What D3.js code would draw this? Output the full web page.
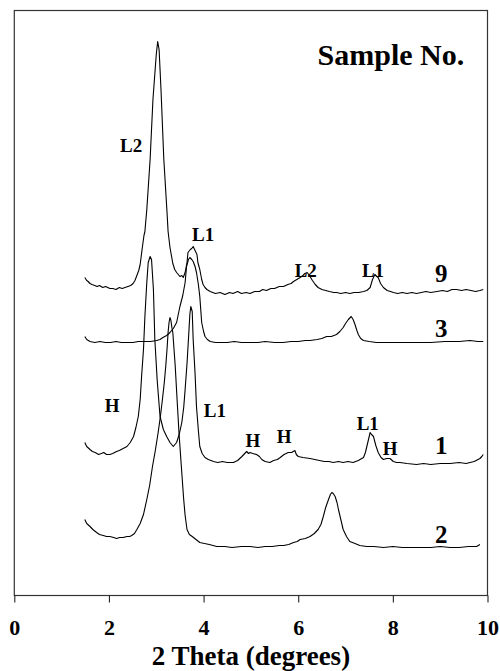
<!DOCTYPE html>
<html>
<head>
<meta charset="utf-8">
<script src="https://cdn.jsdelivr.net/npm/d3@7/dist/d3.min.js"></script>
<style>
  html, body { margin: 0; padding: 0; background: #fff; }
  svg { display: block; }
  text { font-family: "Liberation Serif", "Times New Roman", "DejaVu Serif", serif; font-weight: bold; fill: #000; }
</style>
</head>
<body>
<div id="chart"></div>
<script>
// ---- Data (2 theta in degrees, intensity in arbitrary stacked units) ----
const xTicks = [0, 2, 4, 6, 8, 10];
const sampleNames = ["9", "3", "1", "2"];

const sample9 = [[1.49,318],[1.53,315],[1.56,314],[1.60,312],[1.64,311],[1.70,310],[1.75,309],[1.80,310],[1.87,308],[1.93,309],[2.02,307],[2.08,307],[2.15,306],[2.22,308],[2.28,307],[2.34,308],[2.40,309],[2.46,310],[2.51,312],[2.55,315],[2.59,320],[2.63,325],[2.66,331],[2.70,346],[2.74,360],[2.76,364],[2.80,386],[2.87,436],[2.93,496],[3.00,541],[3.03,554],[3.06,546],[3.10,506],[3.16,436],[3.23,381],[3.25,364],[3.29,348],[3.35,332],[3.39,326],[3.43,323],[3.50,319],[3.54,320],[3.57,318],[3.61,323],[3.65,333],[3.67,343],[3.72,346],[3.75,347],[3.78,349],[3.82,345],[3.86,341],[3.88,333],[3.92,326],[3.96,316],[3.99,311],[4.03,308],[4.07,306],[4.14,304],[4.25,302],[4.35,303],[4.45,301],[4.55,303],[4.62,302],[4.72,304],[4.80,302],[4.90,303],[4.98,302],[5.08,304],[5.18,304],[5.25,306],[5.33,305],[5.42,307],[5.50,307],[5.60,309],[5.69,309],[5.78,311],[5.85,312],[5.90,314],[5.97,316],[6.04,318],[6.10,320],[6.14,322],[6.19,323],[6.22,321],[6.25,319],[6.30,315],[6.36,311],[6.42,308],[6.50,306],[6.58,305],[6.66,304],[6.75,303],[6.81,303],[6.90,302],[7.00,303],[7.09,302],[7.18,303],[7.28,303],[7.38,304],[7.45,305],[7.52,308],[7.57,316],[7.62,321],[7.66,319],[7.69,318],[7.74,312],[7.80,308],[7.88,305],[7.95,304],[8.01,303],[8.10,302],[8.20,303],[8.30,302],[8.40,303],[8.50,302],[8.60,303],[8.70,304],[8.80,303],[8.93,304],[9.05,305],[9.15,304],[9.25,306],[9.35,306],[9.45,305],[9.55,306],[9.65,305],[9.75,304],[9.84,305],[9.91,306]];

const sample3 = [[1.49,259],[1.53,256],[1.60,254],[1.70,253],[1.81,254],[1.92,253],[2.03,253],[2.15,254],[2.26,253],[2.38,253],[2.51,253],[2.62,254],[2.75,254],[2.88,254],[3.01,255],[3.08,256],[3.14,258],[3.22,260],[3.29,263],[3.36,267],[3.43,273],[3.50,289],[3.56,300],[3.61,313],[3.64,329],[3.68,336],[3.71,338],[3.75,336],[3.78,334],[3.82,329],[3.85,323],[3.89,311],[3.92,299],[3.96,273],[4.00,264],[4.03,259],[4.08,256],[4.14,254],[4.25,253],[4.35,253],[4.50,253],[4.65,254],[4.80,253],[4.98,253],[5.15,253],[5.30,254],[5.50,253],[5.68,253],[5.85,254],[6.00,254],[6.15,255],[6.25,255],[6.40,256],[6.50,257],[6.60,259],[6.70,259],[6.81,261],[6.88,264],[6.95,268],[7.00,272],[7.06,276],[7.12,279],[7.16,276],[7.20,271],[7.24,265],[7.27,261],[7.32,257],[7.38,255],[7.50,254],[7.65,253],[7.80,253],[8.00,253],[8.20,253],[8.50,253],[8.80,253],[9.10,254],[9.40,254],[9.63,255],[9.80,254],[9.91,254]];

const sample1 = [[1.49,153],[1.53,149],[1.60,146],[1.65,144],[1.71,143],[1.78,141],[1.84,142],[1.89,143],[1.95,141],[2.02,141],[2.08,142],[2.16,144],[2.22,145],[2.30,147],[2.38,149],[2.45,153],[2.52,159],[2.57,168],[2.62,179],[2.66,196],[2.69,219],[2.73,246],[2.76,279],[2.80,313],[2.83,333],[2.87,339],[2.90,336],[2.94,306],[2.97,256],[3.02,215],[3.08,179],[3.15,166],[3.22,159],[3.29,153],[3.36,149],[3.43,153],[3.49,162],[3.54,173],[3.58,188],[3.61,206],[3.65,232],[3.68,256],[3.71,281],[3.73,289],[3.76,284],[3.78,256],[3.82,222],[3.85,189],[3.89,165],[3.92,149],[3.97,142],[4.03,138],[4.10,136],[4.21,134],[4.30,133],[4.40,134],[4.50,133],[4.63,133],[4.72,135],[4.81,139],[4.87,142],[4.91,144],[4.95,142],[4.98,143],[5.04,142],[5.12,141],[5.18,139],[5.23,136],[5.30,134],[5.40,133],[5.48,135],[5.56,136],[5.62,138],[5.70,141],[5.79,143],[5.86,143],[5.93,145],[5.96,141],[6.00,139],[6.10,138],[6.25,137],[6.35,136],[6.45,135],[6.55,134],[6.65,134],[6.74,133],[6.85,134],[6.95,133],[7.05,134],[7.16,133],[7.27,135],[7.38,138],[7.42,143],[7.45,149],[7.49,157],[7.52,163],[7.55,161],[7.59,159],[7.64,150],[7.69,143],[7.75,138],[7.80,136],[7.87,137],[7.94,137],[8.01,134],[8.08,133],[8.15,133],[8.30,132],[8.50,131],[8.65,132],[8.80,131],[9.00,132],[9.21,132],[9.40,133],[9.55,132],[9.63,133],[9.72,134],[9.80,136],[9.84,137],[9.88,139],[9.91,141]];

const sample2 = [[1.49,76],[1.53,72],[1.60,69],[1.66,66],[1.74,63],[1.80,61],[1.88,60],[1.95,59],[2.02,59],[2.10,58],[2.16,57],[2.23,58],[2.30,58],[2.38,59],[2.44,59],[2.48,60],[2.54,62],[2.59,66],[2.66,72],[2.73,81],[2.80,96],[2.86,110],[2.92,129],[2.98,145],[3.04,163],[3.09,180],[3.13,196],[3.17,213],[3.20,229],[3.23,248],[3.25,263],[3.27,273],[3.29,278],[3.31,275],[3.33,268],[3.35,263],[3.40,230],[3.44,196],[3.48,163],[3.53,129],[3.58,96],[3.61,80],[3.65,66],[3.70,61],[3.76,59],[3.84,56],[3.92,53],[4.02,52],[4.12,51],[4.28,49],[4.45,49],[4.60,48],[4.80,49],[4.98,49],[5.15,48],[5.30,49],[5.45,49],[5.60,50],[5.69,50],[5.80,51],[5.90,53],[5.98,54],[6.04,56],[6.15,57],[6.25,59],[6.34,62],[6.42,66],[6.48,71],[6.53,79],[6.58,88],[6.64,96],[6.68,101],[6.71,103],[6.74,102],[6.78,99],[6.82,93],[6.85,86],[6.90,76],[6.95,66],[7.02,59],[7.09,54],[7.20,52],[7.30,50],[7.45,49],[7.60,49],[7.80,48],[8.00,49],[8.20,48],[8.50,48],[8.80,48],[9.00,49],[9.21,48],[9.40,48],[9.60,49],[9.77,49],[9.84,51]];

const peakLabels = ["L2", "L1", "L2", "L1", "H", "L1", "H", "H", "L1", "H"];
const peakTheta  = [2.47, 3.99, 6.16, 7.58, 2.07, 4.24, 5.04, 5.70, 7.47, 7.94];
const peakLevel  = [444, 355, 319, 319, 184, 179, 149, 153, 166, 141];

const sampleLabelTheta = 9.02;
const sampleLabelLevel = [314, 259, 142, 53];

// ---- Layout ----
const W = 500, H = 671;
const plot = { left: 14.3, right: 487.5, top: 10.5, bottom: 595.5 };

const svg = d3.select("#chart").append("svg").attr("width", W).attr("height", H);

const x = d3.scaleLinear().domain([0, 10]).range([plot.left, plot.right]);
const y = d3.scaleLinear().domain([0, 585]).range([plot.bottom, plot.top]);

// frame
svg.append("rect")
  .attr("x", plot.left).attr("y", plot.top)
  .attr("width", plot.right - plot.left).attr("height", plot.bottom - plot.top)
  .attr("fill", "none").attr("stroke", "#333").attr("stroke-width", 1.2);

// x axis
const xAxis = d3.axisBottom(x).tickValues(xTicks).tickSize(7).tickSizeOuter(0).tickPadding(17)
  .tickFormat(d3.format("d"));
const gx = svg.append("g").attr("transform", `translate(0,${plot.bottom})`).call(xAxis);
gx.attr("font-size", null).attr("font-family", null);
gx.select(".domain").remove();
gx.selectAll(".tick line").attr("stroke", "#222").attr("stroke-width", 1.1);
gx.selectAll(".tick text")
  .attr("font-weight", "bold")
  .attr("font-family", '"Liberation Serif", "Times New Roman", serif')
  .style("font-size", "22px").attr("fill", "#000");

svg.append("text")
  .attr("x", (plot.left + plot.right) / 2).attr("y", 665)
  .attr("text-anchor", "middle").style("font-size", "27px")
  .text("2 Theta (degrees)");

// curves
const line = d3.line().x(d => x(d[0])).y(d => y(d[1])).curve(d3.curveLinear);
[sample9, sample3, sample1, sample2].forEach(s => {
  svg.append("path").datum(s)
    .attr("d", line).attr("fill", "none")
    .attr("stroke", "#000").attr("stroke-width", 1.1).attr("stroke-linejoin", "round");
});

// peak labels
peakLabels.forEach((t, i) => {
  svg.append("text")
    .attr("x", x(peakTheta[i])).attr("y", y(peakLevel[i]))
    .attr("text-anchor", "middle").style("font-size", "19px")
    .text(t);
});

// sample numbers
sampleNames.forEach((t, i) => {
  svg.append("text")
    .attr("x", x(sampleLabelTheta)).attr("y", y(sampleLabelLevel[i]))
    .attr("text-anchor", "middle").style("font-size", "25px")
    .text(t);
});

svg.append("text")
  .attr("x", x(7.96)).attr("y", y(531))
  .attr("text-anchor", "middle").style("font-size", "30px")
  .text("Sample No.");
</script>
</body>
</html>
